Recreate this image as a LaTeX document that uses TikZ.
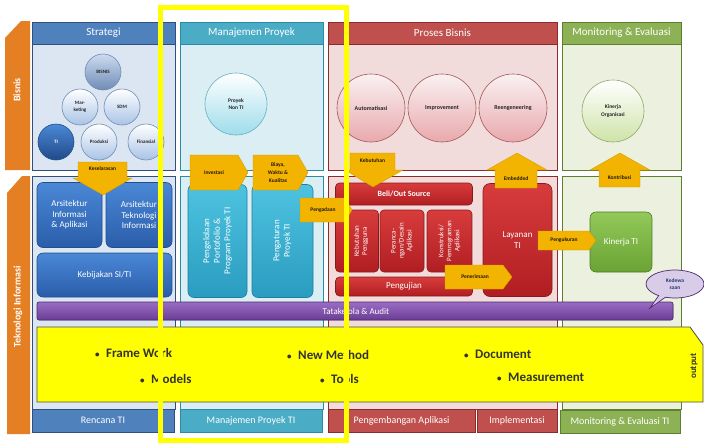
\documentclass[tikz,border=0pt]{standalone}
\usepackage{fontspec}
\setmainfont{Carlito}
\usetikzlibrary{shapes.geometric,shapes.callouts}
\definecolor{sblue}{HTML}{4F81BD}
\definecolor{sblueD}{HTML}{2F4F80}
\definecolor{sblueL}{HTML}{DCE6F2}
\definecolor{bxblueT}{HTML}{4A88D6}
\definecolor{bxblueB}{HTML}{2A5DAA}
\definecolor{bxblueD}{HTML}{1F4E8C}
\definecolor{cyanH}{HTML}{4BACC6}
\definecolor{cyanD}{HTML}{2B8AA6}
\definecolor{cyanL}{HTML}{DAEEF3}
\definecolor{bxcyanT}{HTML}{4EC3E0}
\definecolor{bxcyanB}{HTML}{2A9CC0}
\definecolor{bxcyanD}{HTML}{1F7E9E}
\definecolor{redH}{HTML}{C0504D}
\definecolor{redD}{HTML}{8B2B2B}
\definecolor{redL}{HTML}{F2DCDB}
\definecolor{bxredT}{HTML}{D83C3C}
\definecolor{bxredB}{HTML}{B01E22}
\definecolor{bxredD}{HTML}{8A1A1A}
\definecolor{greenH}{HTML}{8DB255}
\definecolor{greenD}{HTML}{5E7F2E}
\definecolor{greenL}{HTML}{EBF1DE}
\definecolor{bxgreenT}{HTML}{92C95A}
\definecolor{bxgreenB}{HTML}{6AA333}
\definecolor{bxgreenD}{HTML}{4E7A2A}
\definecolor{orangeS}{HTML}{E57F23}
\definecolor{gold}{HTML}{F2B400}
\definecolor{purpT}{HTML}{9B6CC4}
\definecolor{purpB}{HTML}{6A3D94}
\definecolor{purpD}{HTML}{4B2A6E}
\definecolor{yel}{HTML}{FFFF00}
\definecolor{ballblue}{HTML}{A9C3E6}
\definecolor{ballblueD}{HTML}{6F8CB5}
\definecolor{ballcyan}{HTML}{9EDCEB}
\definecolor{ballpink}{HTML}{E9A9AD}
\definecolor{ballgreen}{HTML}{CFE3A8}
\definecolor{lav}{HTML}{D9CCE8}
\definecolor{navytxt}{HTML}{1F3A70}
\newcommand\smbul{{\fontsize{9}{9}\selectfont\textbullet}\enspace}
\begin{document}
\begin{tikzpicture}[x=1pt,y=-1pt,
  every node/.style={inner sep=0pt, align=center},
  hdrtxt/.style={text=white, font=\fontsize{11}{13}\selectfont},
  sidetxt/.style={text=white, font=\bfseries\fontsize{10}{12}\selectfont, rotate=90},
  circtxt/.style={text=black!85, font=\bfseries\fontsize{5}{6.5}\selectfont},
  boxtxt/.style={text=white, font=\fontsize{9}{10.5}\selectfont},
  smalltxt/.style={text=white, font=\fontsize{7}{8}\selectfont},
  calltxt/.style={text=black!80!brown, font=\bfseries\fontsize{5.5}{7}\selectfont},
  callout/.style={fill=gold, draw=gold!85!black, line width=0.3pt},
  bullettxt/.style={text=black!80, font=\bfseries\fontsize{13}{15}\selectfont, anchor=west},
  bluebox/.style={top color=bxblueT, bottom color=bxblueB, draw=bxblueD, line width=0.6pt, rounded corners=6pt},
  cyanbox/.style={top color=bxcyanT, bottom color=bxcyanB, draw=bxcyanD, line width=0.6pt, rounded corners=6pt},
  redbox/.style={top color=bxredT, bottom color=bxredB, draw=bxredD, line width=0.6pt, rounded corners=4pt},
  greenbox/.style={top color=bxgreenT, bottom color=bxgreenB, draw=bxgreenD, line width=0.6pt, rounded corners=6pt},
  sball/.style={top color=white, bottom color=ballblue, draw=ballblueD, line width=0.6pt},
  barlabel/.style={text=white, font=\fontsize{10}{12}\selectfont}]
\useasboundingbox (0,0) rectangle (704,445);
\fill[white] (0,0) rectangle (704,445);

% side bars
\fill[orangeS] (5,38) -- (21,21) -- (30,21) -- (30,170) -- (5,170) -- cycle;
\fill[orangeS] (7,193) -- (22,176) -- (30,176) -- (30,434) -- (7,434) -- cycle;
\node[sidetxt] (bisnis) at (17,90) {Bisnis};
\node[sidetxt] (teknologi) at (18,307) {Teknologi Informasi};

% ---------- Strategi ----------
\fill[sblue] (32,22) rectangle (175,44);
\filldraw[fill=sblueL, draw=sblueD, line width=0.8pt] (32,44) rectangle (175,170);
\draw[sblueD, line width=0.8pt] (32,22) rectangle (175,170);
\node[hdrtxt] (strategi) at (103.5,33) {Strategi};
\filldraw[fill=sblueL, draw=sblueD, line width=0.8pt] (32,176) rectangle (175,409);
\node[sball, circle, minimum size=36pt, top color=ballblue!60, bottom color=ballblueD] (cbisnis) at (103,72) {};
\node[circtxt] (tbisnis) at (103,72) {BISNIS};
\node[sball, circle, minimum size=36pt] (cmark) at (80,107) {};
\node[circtxt] (tmark) at (80,107) {Mar-\\keting};
\node[sball, circle, minimum size=36pt] (csdm) at (122,107) {};
\node[circtxt] (tsdm) at (122,107) {SDM};
\node[circle, minimum size=36pt, top color=bxblueT, bottom color=bxblueB!80!black, draw=bxblueD, line width=0.6pt] (cti) at (56,142) {};
\node[circtxt, text=white] (tti) at (56,142) {TI};
\node[sball, circle, minimum size=36pt] (cprod) at (99,142) {};
\node[circtxt] (tprod) at (99,142) {Produksi};
\node[sball, circle, minimum size=36pt] (cfin) at (146,142) {};
\node[circtxt] (tfin) at (146,142) {Finansial};

\node[bluebox, minimum width=65pt, minimum height=65pt] (ars1) at (69.5,215) {};
\node[boxtxt] (tars1) at (69.5,215) {Arsitektur\\Informasi\\\& Aplikasi};
\node[bluebox, minimum width=66pt, minimum height=65pt] (ars2) at (139,215) {};
\node[boxtxt] (tars2) at (139,215) {Arsitektur\\Teknologi\\Informasi};
\node[bluebox, minimum width=135pt, minimum height=44pt] (kebij) at (104.5,275) {};
\node[boxtxt] (tkebij) at (104.5,275) {Kebijakan SI/TI};

% ---------- Manajemen Proyek ----------
\fill[cyanH] (180,22) rectangle (323,44);
\filldraw[fill=cyanL, draw=cyanD, line width=0.8pt] (180,44) rectangle (323,170);
\draw[cyanD, line width=0.8pt] (180,22) rectangle (323,170);
\node[hdrtxt] (manpro) at (251.5,33) {Manajemen Proyek};
\filldraw[fill=cyanL, draw=cyanD, line width=0.8pt] (180,176) rectangle (323,409);
\node[circle, minimum size=62pt, top color=white, bottom color=ballcyan, draw=cyanD!70, line width=0.6pt] (cnonti) at (236,104) {};
\node[circtxt, font=\bfseries\fontsize{5.5}{7.5}\selectfont] (tnonti) at (236,104) {Proyek\\Non TI};
\node[cyanbox, minimum width=59pt, minimum height=113pt] (portf) at (217.5,241) {};
\node[boxtxt, rotate=90] (tportf) at (217.5,241) {Pengelolaan\\Portofolio \&\\Program Proyek TI};
\node[cyanbox, minimum width=61pt, minimum height=113pt] (atur) at (282.5,241) {};
\node[boxtxt, rotate=90] (tatur) at (282.5,241) {Pengaturan\\Proyek TI};

% ---------- Proses Bisnis ----------
\fill[redH] (328,22) rectangle (557,44);
\filldraw[fill=redL, draw=redD, line width=0.8pt] (328,44) rectangle (557,170);
\draw[redD, line width=0.8pt] (328,22) rectangle (557,170);
\node[hdrtxt] (probis) at (442.5,33) {Proses Bisnis};
\filldraw[fill=redL, draw=redD, line width=0.8pt] (328,176) rectangle (557,409);
\node[circle, minimum size=68pt, top color=white!60!redL, bottom color=ballpink, draw=redD!80, line width=0.6pt] (cauto) at (371,108) {};
\node[circtxt, font=\bfseries\fontsize{6}{7.5}\selectfont] (tauto) at (371,108) {Automatisasi};
\node[circle, minimum size=68pt, top color=white!60!redL, bottom color=ballpink, draw=redD!80, line width=0.6pt] (cimp) at (442,108) {};
\node[circtxt, font=\bfseries\fontsize{6}{7.5}\selectfont] (timp) at (442,108) {Improvement};
\node[circle, minimum size=68pt, top color=white!60!redL, bottom color=ballpink, draw=redD!80, line width=0.6pt] (creen) at (513,108) {};
\node[circtxt, font=\bfseries\fontsize{6}{7.5}\selectfont] (treen) at (513,108) {Reengeneering};

\node[redbox, minimum width=137pt, minimum height=22pt] (beli) at (404,194) {};
\node[smalltxt, font=\bfseries\fontsize{8}{9}\selectfont] (tbeli) at (404,194) {Beli/Out Source};
\node[redbox, minimum width=43pt, minimum height=62pt] (kebp) at (357,241) {};
\node[smalltxt, rotate=90] (tkebp) at (361,241) {Kebutuhan\\Pengguna};
\node[redbox, minimum width=44pt, minimum height=62pt] (desain) at (402,241) {};
\node[smalltxt, rotate=90] (tdesain) at (402,241) {Peranca-\\ngan/Desain\\Aplikasi};
\node[redbox, minimum width=45pt, minimum height=62pt] (konst) at (449.5,241) {};
\node[smalltxt, rotate=90] (tkonst) at (449.5,241) {Konstruksi/\\Pemrograman\\Aplikasi};
\node[redbox, minimum width=137pt, minimum height=19pt] (uji) at (404,286.5) {};
\node[boxtxt] (tuji) at (404,286.5) {Pengujian};
\node[redbox, rounded corners=7pt, minimum width=69pt, minimum height=113pt] (layan) at (517.5,240) {};
\node[boxtxt] (tlayan) at (517.5,240) {Layanan\\TI};

% ---------- Monitoring ----------
\fill[greenH] (562,22) rectangle (681,44);
\filldraw[fill=greenL, draw=greenD, line width=0.8pt] (562,44) rectangle (681,170);
\draw[greenD, line width=0.8pt] (562,22) rectangle (681,170);
\node[hdrtxt] (monev) at (621.5,33) {Monitoring \& Evaluasi};
\filldraw[fill=greenL, draw=greenD, line width=0.8pt] (562,176) rectangle (681,409);
\node[circle, minimum size=62pt, top color=white, bottom color=ballgreen, draw=greenD!70, line width=0.6pt] (corg) at (613,111) {};
\node[circtxt, font=\bfseries\fontsize{5.5}{7.5}\selectfont] (torg) at (613,111) {Kinerja\\Organisasi};
\node[greenbox, minimum width=62pt, minimum height=60pt] (kinti) at (621,242) {};
\node[boxtxt] (tkinti) at (621,242) {Kinerja TI};

% ---------- callout arrows ----------
\filldraw[callout] (78,162) -- (127,162) -- (127,178) -- (132,178) -- (103,195) -- (73,178) -- (78,178) -- cycle;
\node[calltxt] (kesel) at (102.5,169) {Keselarasan};
\filldraw[callout] (190,155) -- (238,155) -- (248,172.5) -- (238,190) -- (190,190) -- cycle;
\node[calltxt] (invest) at (214,172.5) {Investasi};
\filldraw[callout] (253,155) -- (298,155) -- (308,172.5) -- (298,190) -- (253,190) -- cycle;
\node[calltxt, font=\bfseries\fontsize{5.5}{8}\selectfont] (biaya) at (278,172.5) {Biaya,\\Waktu \&\\Kualitas};
\filldraw[callout] (300,198) -- (345,198) -- (352,210) -- (345,222) -- (300,222) -- cycle;
\node[calltxt] (pengadaan) at (323,210) {Pengadaan};
\filldraw[callout] (350,153) -- (395,153) -- (395,170) -- (403,170) -- (373,187) -- (345,170) -- (350,170) -- cycle;
\node[calltxt] (kebut) at (372.5,161) {Kebutuhan};
\filldraw[callout] (517,153) -- (547,170) -- (537,170) -- (537,188) -- (495,188) -- (495,170) -- (487,170) -- cycle;
\node[calltxt] (embed) at (516,179) {Embedded};
\filldraw[callout] (620,153) -- (650,170) -- (640,170) -- (640,187) -- (599,187) -- (599,170) -- (590,170) -- cycle;
\node[calltxt] (kontrib) at (619.5,178) {Kontribusi};
\filldraw[callout] (445,265) -- (503,265) -- (512,277) -- (503,289) -- (445,289) -- cycle;
\node[calltxt] (terima) at (475,277) {Penerimaan};
\filldraw[callout] (538,231) -- (589,231) -- (596,240.5) -- (589,250) -- (538,250) -- cycle;
\node[calltxt] (ukur) at (564,240.5) {Pengukuran};

% ---------- Tatakelola bar ----------
\filldraw[top color=purpT, bottom color=purpB, draw=purpD, line width=0.6pt, rounded corners=2pt] (37,302) rectangle (673,320);
\node[boxtxt] (tata) at (356,311) {Tatakelola \& Audit};
\node[ellipse callout, callout absolute pointer={(650,308)}, fill=lav, draw=purpD, line width=0.7pt, minimum width=58pt, minimum height=28pt] (kedew) at (675,284) {};
\node[text=navytxt, font=\bfseries\fontsize{5.5}{7.5}\selectfont] (tkedew) at (675,284) {Kedewa\\saan};

% ---------- yellow output ----------
\filldraw[fill=yel, draw=black!70, line width=0.8pt] (37,327) -- (690,327) -- (703,345) -- (703,402) -- (37,402) -- cycle;
\node[bullettxt] (fw) at (95,353) {\smbul Frame Work};
\node[bullettxt] (mod) at (140,379) {\smbul Models};
\node[bullettxt] (nm) at (287,355) {\smbul New Method};
\node[bullettxt] (tools) at (320,379) {\smbul Tools};
\node[bullettxt] (doc) at (464,354) {\smbul Document};
\node[bullettxt] (meas) at (497,377) {\smbul Measurement};
\node[text=black!80, font=\bfseries\fontsize{9}{10}\selectfont, rotate=90] (outp) at (694,366) {output};

% ---------- bottom labels ----------
\filldraw[fill=sblue, draw=sblueD, line width=0.5pt] (32,409) rectangle (174,432);
\node[barlabel] (lrencana) at (103,420.5) {Rencana TI};
\filldraw[fill=cyanH, draw=cyanD, line width=0.5pt] (180,409) rectangle (322,432);
\node[barlabel] (lmanpro) at (251,420.5) {Manajemen Proyek TI};
\filldraw[fill=redH, draw=redD, line width=0.5pt] (328,409) rectangle (475,432);
\node[barlabel] (lpengemb) at (401.5,420.5) {Pengembangan Aplikasi};
\filldraw[fill=redH, draw=redD, line width=0.5pt] (477,409) rectangle (557,432);
\node[barlabel] (limpl) at (517,420.5) {Implementasi};
\filldraw[fill=greenH, draw=greenD, line width=0.5pt] (560,410) rectangle (680,433);
\node[barlabel] (lmonev) at (620,421.5) {Monitoring \& Evaluasi TI};

% ---------- yellow highlight frame ----------
\draw[yel, line width=5pt] (160,7.5) rectangle (346,440.5);
\end{tikzpicture}
\end{document}
